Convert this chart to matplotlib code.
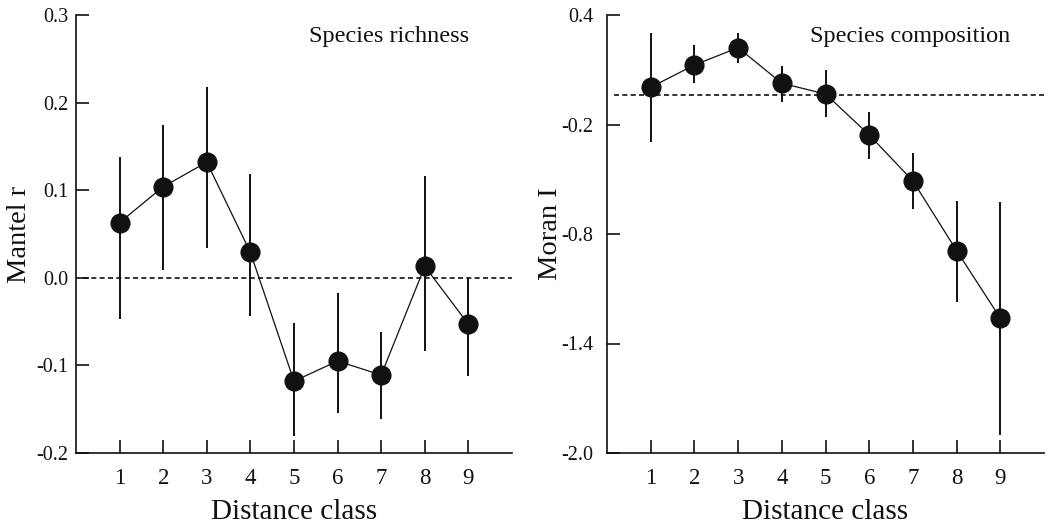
import matplotlib
matplotlib.use("Agg")
import matplotlib.pyplot as plt
import numpy as np

plt.rcParams['font.family'] = ['Liberation Serif', 'DejaVu Serif']

# ---- data ----
distance_class = [1, 2, 3, 4, 5, 6, 7, 8, 9]

richness_r = [0.063, 0.104, 0.132, 0.029, -0.118, -0.095, -0.111, 0.013, -0.053]
richness_hi = [0.138, 0.174, 0.218, 0.118, -0.052, -0.017, -0.062, 0.116, 0.000]
richness_lo = [-0.047, 0.009, 0.034, -0.044, -0.181, -0.154, -0.161, -0.084, -0.112]

composition_I = [0.004, 0.126, 0.221, 0.026, -0.033, -0.257, -0.509, -0.891, -1.261]
composition_hi = [0.300, 0.236, 0.303, 0.122, 0.099, -0.130, -0.354, -0.617, -0.623]
composition_lo = [-0.294, 0.026, 0.139, -0.075, -0.157, -0.390, -0.664, -1.173, -1.900]

richness_ref = 0.0
composition_ref = -0.036

left_yticks = [0.3, 0.2, 0.1, 0.0, -0.1, -0.2]
left_yticklabels = ['0.3', '0.2', '0.1', '0.0', '-0.1', '-0.2']
right_yticks = [0.4, -0.2, -0.8, -1.4, -2.0]
right_yticklabels = ['0.4', '-0.2', '-0.8', '-1.4', '-2.0']

W, H = 1054, 527
fig = plt.figure(figsize=(W / 100, H / 100), dpi=100)

ax1 = fig.add_axes([76 / W, 1 - 453 / H, (512 - 76) / W, (453 - 15) / H])
ax2 = fig.add_axes([607 / W, 1 - 453 / H, (1044 - 607) / W, (453 - 15) / H])

col = '#111111'


def draw(ax, y, lo, hi, ref, yticks, yticklabels, ylim, ylabel, title, title_x, ypad):
    x = np.array(distance_class)
    y = np.array(y)
    lo = np.array(lo)
    hi = np.array(hi)
    ax.axhline(ref, xmin=0.016, xmax=1.0, color=col, lw=1.2, ls=(0, (3, 2)), zorder=1)
    ax.vlines(x, lo, hi, color=col, lw=1.4, zorder=2)
    ax.plot(x, y, color=col, lw=0.9, zorder=3)
    ax.plot(x, y, 'o', color=col, ms=13.5, zorder=4)
    ax.set_xlim(0, 10)
    ax.set_ylim(*ylim)
    ax.set_xticks(x)
    ax.set_xticklabels([str(v) for v in distance_class])
    ax.set_yticks(yticks)
    ax.set_yticklabels(yticklabels)
    for s in ['top', 'right']:
        ax.spines[s].set_visible(False)
    for s in ['left', 'bottom']:
        ax.spines[s].set_linewidth(1.2)
        ax.spines[s].set_color(col)
    ax.tick_params(axis='x', direction='in', length=9.5, width=1.2, colors=col,
                   labelsize=16.5, pad=11)
    ax.tick_params(axis='y', direction='in', length=9.5, width=1.2, colors=col,
                   labelsize=14.5, pad=ypad)
    ax.set_xlabel('Distance class', fontsize=21, color=col, labelpad=7)
    ax.set_ylabel(ylabel, fontsize=20.5, color=col)
    ax.text(title_x, 0.95, title, transform=ax.transAxes, fontsize=17.5,
            color=col, ha='left', va='center')
    ax.patch.set_alpha(0)


draw(ax1, richness_r, richness_lo, richness_hi, richness_ref,
     left_yticks, left_yticklabels, (-0.2, 0.3), 'Mantel r', 'Species richness', 0.534, 5.5)
draw(ax2, composition_I, composition_lo, composition_hi, composition_ref,
     right_yticks, right_yticklabels, (-2.0, 0.4), 'Moran I', 'Species composition', 0.465, 10)

ax1.yaxis.set_label_coords(-0.101, 0.5)
ax2.yaxis.set_label_coords(-0.1, 0.5)

fig.savefig('out.png', dpi=100, facecolor='white')
